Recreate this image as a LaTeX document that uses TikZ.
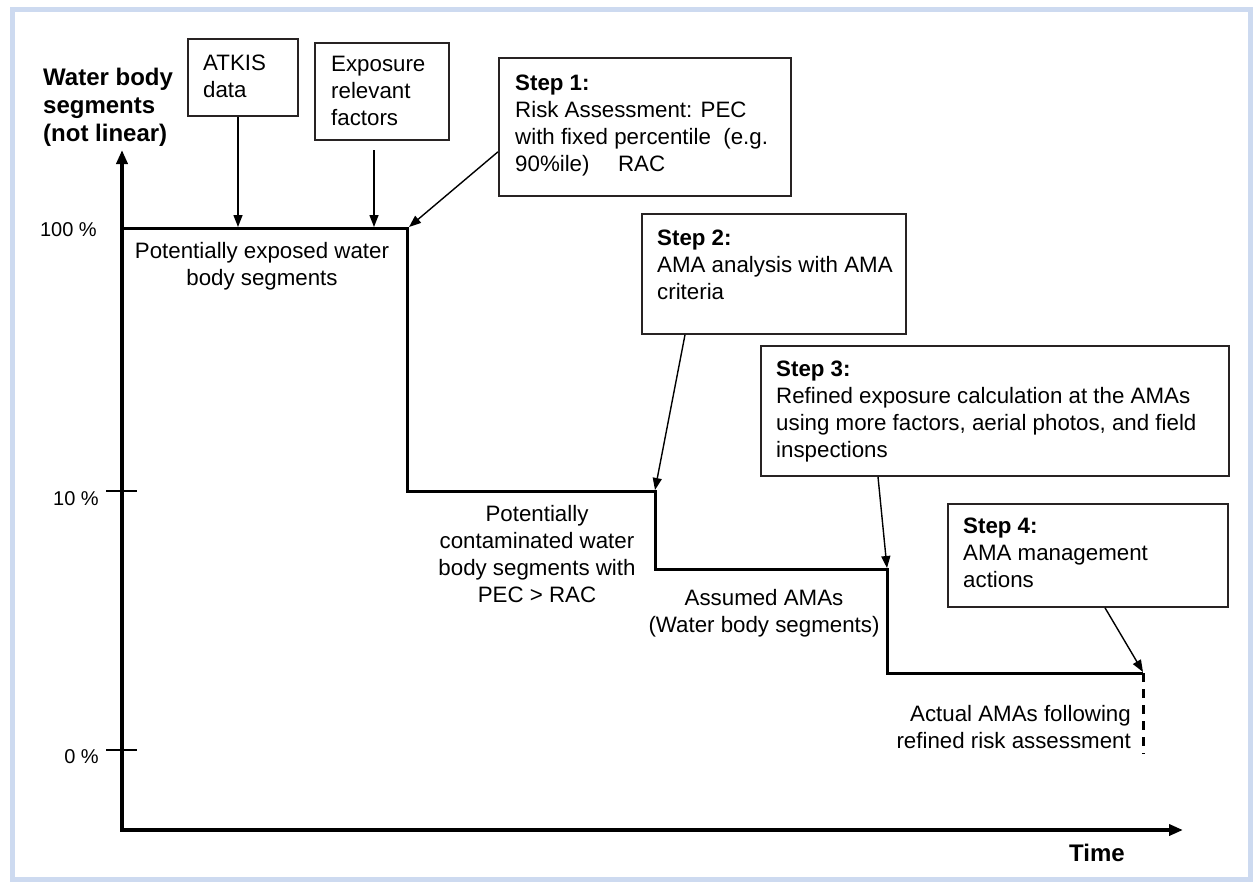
\documentclass[tikz,border=0pt]{standalone}
\usepackage{fontspec}
\setmainfont{Liberation Sans}
\usetikzlibrary{arrows.meta,calc}
\newcommand{\fr}{\fontsize{22.3}{27}\selectfont}
\newcommand{\fb}{\fontsize{24}{28}\selectfont\bfseries}
\definecolor{framebl}{RGB}{205,218,240}
\definecolor{boxline}{RGB}{40,35,35}
\tikzset{
  frameline/.style={draw=framebl, line width=5pt},
  stepbox/.style={draw=boxline, line width=1.8pt, anchor=north west, inner sep=0pt},
  boxtext/.style={anchor=north west, inner sep=0pt, align=left, font=\fr},
  lbl/.style={inner sep=0pt, font=\fr},
  ticklbl/.style={inner sep=0pt, anchor=east, font=\fontsize{20}{24}\selectfont},
  axis/.style={line width=3.8pt, -{Triangle[length=14pt,width=11pt]}},
  stepline/.style={line width=3pt, line join=miter},
  conn/.style={line width=1.4pt, -{Triangle[length=12pt,width=9pt]}},
  tickline/.style={line width=2pt}
}
\begin{document}
\begin{tikzpicture}[x=1pt,y=-1pt]
\useasboundingbox (0,0) rectangle (1259,883);
\fill[white] (0,0) rectangle (1259,883);
\draw[frameline] (12.5,9.5) rectangle (1250,879);

% axes
\coordinate (o) at (122,830);
\coordinate (ytip) at (122,150);
\coordinate (xtip) at (1183,830);
\draw[axis] (o) -- (ytip);
\draw[axis] ([xshift=-1.9pt]o) -- (xtip);

\node[anchor=north west, inner sep=0pt, align=left, font=\fb] (ylab) at (43,66)
  {\strut Water body\\segments\\(not linear)};
\node[inner sep=0pt, font=\fb] (xlab) at (1097,853) {Time};

% ticks
\coordinate (t10a) at (106,491); \coordinate (t10b) at (137,491);
\coordinate (t0a) at (106,750);  \coordinate (t0b) at (137,750);
\draw[tickline] (t10a) -- (t10b);
\draw[tickline] (t0a) -- (t0b);
\node[ticklbl] (l100) at (97,230) {100 \%};
\node[ticklbl] (l10) at (99,499) {10 \%};
\node[ticklbl] (l0) at (99,757) {0 \%};

% step curve
\coordinate (p100) at (122,228);
\coordinate (c1) at (407,228);
\coordinate (c1b) at (407,491);
\coordinate (c2) at (655,491);
\coordinate (c2b) at (655,569);
\coordinate (c3) at (887,569);
\coordinate (c3b) at (887,673);
\coordinate (c4) at (1143,673);
\coordinate (c4b) at (1143,754);
\draw[stepline] (p100) -- (c1) -- (c1b) -- (c2) -- (c2b) -- (c3) -- (c3b) -- (c4);
\draw[line width=3pt, dash pattern=on 9pt off 7pt] (c4) -- (c4b);

% boxes
\node[stepbox, minimum width=110pt, minimum height=77pt] (atk) at (187,38) {};
\node[boxtext] (atkt) at (203,51) {\strut ATKIS\\data};
\node[stepbox, minimum width=134pt, minimum height=97pt] (exp) at (314,42) {};
\node[boxtext] (expt) at (331,52) {\strut Exposure\\relevant\\factors};
\node[stepbox, minimum width=292pt, minimum height=138pt] (s1) at (498,57) {};
\node[boxtext] (s1t) at (515,71) {\strut\textbf{Step 1:}\\Risk Assessment: PEC\\with fixed percentile~~(e.g.\\90\%ile)\hspace{1em} RAC};
\node[stepbox, minimum width=264pt, minimum height=120pt] (s2) at (641,213) {};
\node[boxtext] (s2t) at (657,226) {\strut\textbf{Step 2:}\\AMA analysis with AMA\\criteria};
\node[stepbox, minimum width=468pt, minimum height=130pt] (s3) at (760,345) {};
\node[boxtext] (s3t) at (776,357) {\strut\textbf{Step 3:}\\Refined exposure calculation at the AMAs\\using more factors, aerial photos, and field\\inspections};
\node[stepbox, minimum width=280pt, minimum height=103pt] (s4) at (947,503) {};
\node[boxtext] (s4t) at (963,514) {\strut\textbf{Step 4:}\\AMA management\\actions};

% curve labels
\node[lbl, anchor=north, align=center] (lb1) at (262,239) {\strut Potentially exposed water\\body segments};
\node[lbl, anchor=north, align=center] (lb2) at (537,502) {\strut Potentially\\contaminated water\\body segments with\\PEC > RAC};
\node[lbl, anchor=north, align=center] (lb3) at (764,586) {\strut Assumed AMAs\\(Water body segments)};
\node[lbl, anchor=north east, align=right] (lb4) at (1131,702) {\strut Actual AMAs following\\refined risk assessment};

% connectors
\coordinate (a1tip) at (238,227);
\draw[conn] (atk.south -| a1tip) -- (a1tip);
\coordinate (a2s) at (374,150);
\coordinate (a2tip) at (374,227);
\draw[conn] (a2s) -- (a2tip);
\coordinate (a3tip) at (409,227);
\draw[conn] ($(s1.south west)+(0,-45)$) -- (a3tip);
\coordinate (a4tip) at (655,490);
\draw[conn] ($(s2.south west)+(44,0)$) -- (a4tip);
\coordinate (a5tip) at (887,568);
\draw[conn] ($(s3.south west)+(118,0)$) -- (a5tip);
\coordinate (a6tip) at (1143,672);
\draw[conn] ($(s4.south west)+(158,0)$) -- (a6tip);
\end{tikzpicture}
\end{document}
